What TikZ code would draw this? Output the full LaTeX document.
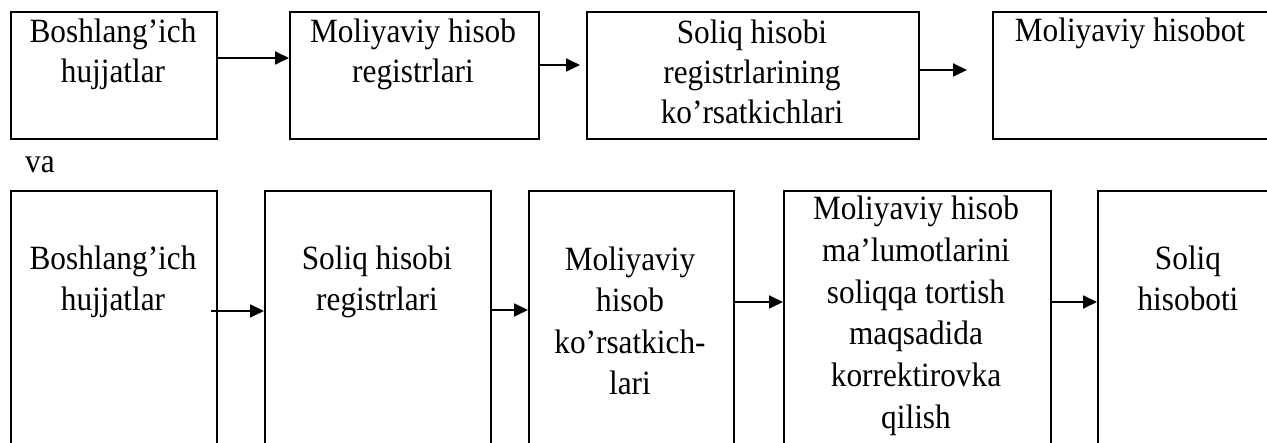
\documentclass[tikz,border=0pt]{standalone}
\usepackage{fontspec}
\setmainfont[FakeStretch=0.92]{Liberation Serif}
\usetikzlibrary{arrows.meta}

\tikzset{
  box/.style={draw, line width=1.8pt, rectangle, inner sep=0pt, anchor=north west},
  txt/.style={align=center, inner sep=0pt, anchor=north, font=\fontsize{34}{40}\selectfont},
  txtb/.style={align=center, inner sep=0pt, anchor=north, font=\fontsize{34}{41.5}\selectfont},
  txtc/.style={align=center, inner sep=0pt, anchor=north, font=\fontsize{34}{41.8}\selectfont},
  arr/.style={-{Triangle[length=14pt,width=13pt]}, line width=1.8pt}
}

\begin{document}
\begin{tikzpicture}[x=1pt, y=-1pt]
  \useasboundingbox (0,0) rectangle (1267,443);
  \fill[white] (0,0) rectangle (1267,443);
  \clip (0,0) rectangle (1267,443);

  % first chain
  \node[box, minimum width=206pt, minimum height=127pt] (T1) at (10,11) {};
  \node[box, minimum width=249pt, minimum height=127pt] (T2) at (289,11) {};
  \node[box, minimum width=332pt, minimum height=127pt] (T3) at (586,11) {};
  \node[box, minimum width=290pt, minimum height=127pt] (T4) at (992,11) {};

  \node[txt] (t1) at (113,14) {\strut Boshlang’ich\\hujjatlar};
  \node[txt] (t2) at (413,14) {\strut Moliyaviy hisob\\registrlari};
  \node[txt] (t3) at (752,15) {\strut Soliq hisobi\\registrlarining\\ko’rsatkichlari};
  \node[txt] (t4) at (1130,13) {\strut Moliyaviy hisobot};

  \coordinate (ya1) at (0,58);
  \coordinate (ya2) at (0,65);
  \coordinate (ya3) at (0,70);
  \draw[arr] (T1.east |- ya1) -- (T2.west |- ya1);
  \draw[arr, shorten >=6pt] (T2.east |- ya2) -- (T3.west |- ya2);
  \draw[arr, shorten >=25pt] (T3.east |- ya3) -- (T4.west |- ya3);

  % connective word
  \node[anchor=base west, inner sep=0pt, font=\fontsize{34}{40}\selectfont] (va) at (25,173) {va};

  % second chain
  \node[box, minimum width=206pt, minimum height=280pt] (B1) at (10,190) {};
  \node[box, minimum width=226pt, minimum height=280pt] (B2) at (264,190) {};
  \node[box, minimum width=205pt, minimum height=280pt] (B3) at (528,190) {};
  \node[box, minimum width=267pt, minimum height=280pt] (B4) at (783,190) {};
  \node[box, minimum width=190pt, minimum height=280pt] (B5) at (1097,190) {};

  \node[txtb] (s1) at (113,240) {\strut Boshlang’ich\\hujjatlar};
  \node[txtb] (s2) at (377,240) {\strut Soliq hisobi\\registrlari};
  \node[txtb] (s3) at (630,241) {\strut Moliyaviy\\hisob\\ko’rsatkich-\\lari};
  \node[txtc] (s4) at (916,190) {\strut Moliyaviy hisob\\ma’lumotlarini\\soliqqa tortish\\maqsadida\\korrektirovka\\qilish};
  \node[txtb] (s5) at (1188,240) {\strut Soliq\\hisoboti};

  \coordinate (yb1) at (0,311);
  \coordinate (yb2) at (0,310);
  \coordinate (yb3) at (0,302);
  \draw[arr, shorten <=-7pt] (B1.east |- yb1) -- (B2.west |- yb1);
  \draw[arr] (B2.east |- yb2) -- (B3.west |- yb2);
  \draw[arr] (B3.east |- yb3) -- (B4.west |- yb3);
  \draw[arr] (B4.east |- yb3) -- (B5.west |- yb3);
\end{tikzpicture}
\end{document}
